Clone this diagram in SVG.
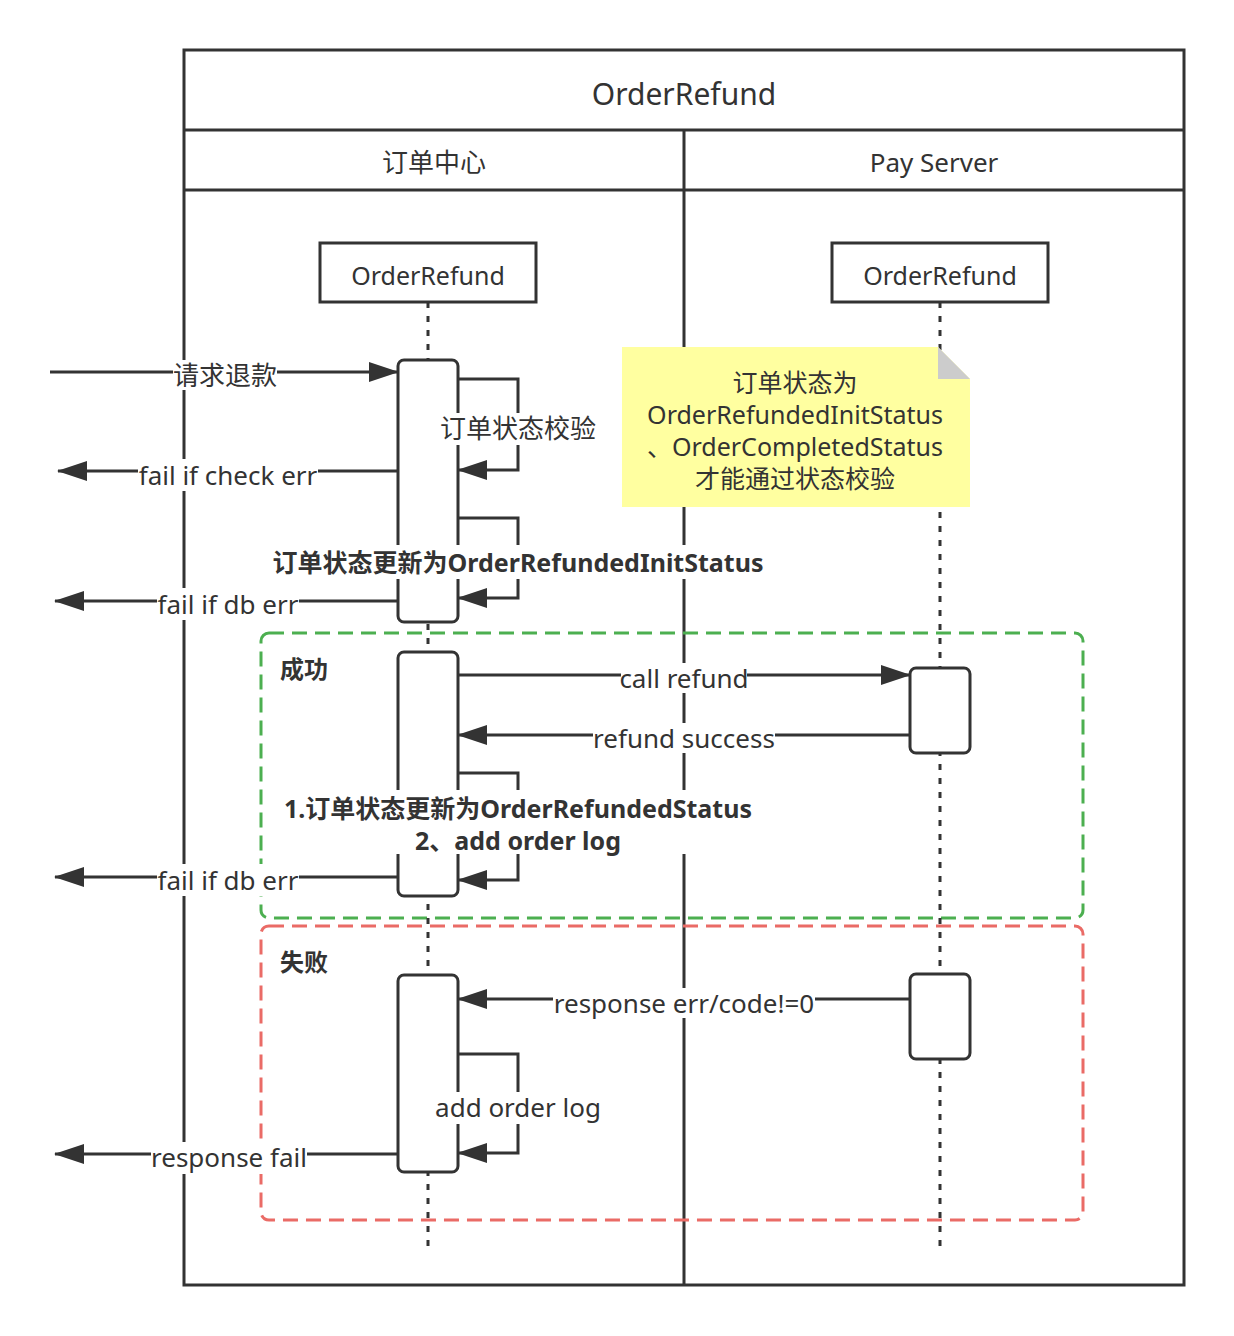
<svg xmlns="http://www.w3.org/2000/svg" width="1234" height="1336" viewBox="0 0 1234 1336">
<defs>
<style>
text{font-family:"Noto Sans","Noto Sans CJK SC",sans-serif;fill:#333333;text-anchor:middle}
.lbl{font-size:26px}
.bold{font-size:25px;font-weight:bold}
.frame{fill:none;stroke:#333333;stroke-width:3}
.life{fill:none;stroke:#333333;stroke-width:3;stroke-dasharray:6 8}
.head{fill:#ffffff;stroke:#333333;stroke-width:3}
.act{fill:#ffffff;stroke:#333333;stroke-width:3}
.msg{fill:none;stroke:#333333;stroke-width:3;marker-end:url(#arr)}
.lbg{fill:#ffffff}
.grp{fill:none;stroke-width:3;stroke-dasharray:15 8}
</style>
<marker id="arr" viewBox="0 0 30 20" refX="29" refY="10" markerWidth="30" markerHeight="20" markerUnits="userSpaceOnUse" orient="auto">
<path d="M0,0 L30,10 L0,20 Z" fill="#333333"/>
</marker>
</defs>
<rect width="1234" height="1336" fill="#ffffff"/>

<g id="pool">
<rect class="frame" x="184" y="50" width="1000" height="1235"/>
<line class="frame" x1="184" y1="130" x2="1184" y2="130"/>
<line class="frame" x1="184" y1="190" x2="1184" y2="190"/>
<line class="frame" x1="684" y1="130" x2="684" y2="1285"/>
<text x="684" y="105" style="font-size:30px">OrderRefund</text>
</g>
<g id="lane-order">
<text class="lbl" x="434" y="172">订单中心</text>
</g>
<g id="lane-pay">
<text class="lbl" x="934" y="172">Pay Server</text>
</g>

<g id="group-success">
<rect class="grp" x="261" y="633" width="822" height="285" rx="8" stroke="#4caf50"/>
<text class="bold" x="304" y="678" style="font-size:24px">成功</text>
</g>
<g id="group-fail">
<rect class="grp" x="261" y="926" width="822" height="294" rx="8" stroke="#ea6b66"/>
<text class="bold" x="304" y="971" style="font-size:24px">失败</text>
</g>

<g id="lifeline-order">
<line class="life" x1="428" y1="302" x2="428" y2="1248"/>
<rect class="head" x="320" y="243" width="216" height="59"/>
<text x="428" y="285" style="font-size:25px">OrderRefund</text>
</g>
<g id="lifeline-pay">
<line class="life" x1="940" y1="302" x2="940" y2="1248"/>
<rect class="head" x="832" y="243" width="216" height="59"/>
<text x="940" y="285" style="font-size:25px">OrderRefund</text>
</g>

<g id="act-order-1"><rect class="act" x="398" y="360" width="60" height="262" rx="6"/></g>
<g id="act-order-2"><rect class="act" x="398" y="652" width="60" height="244" rx="6"/></g>
<g id="act-order-3"><rect class="act" x="398" y="975" width="60" height="197" rx="6"/></g>
<g id="act-pay-1"><rect class="act" x="910" y="668" width="60" height="85" rx="6"/></g>
<g id="act-pay-2"><rect class="act" x="910" y="974" width="60" height="85" rx="6"/></g>

<g id="note">
<path d="M622,347 H938 L970,379 V507 H622 Z" fill="#ffffa0"/>
<path d="M938,347 V379 H970 Z" fill="#cccccc"/>
<text x="795" y="392" style="font-size:25px">订单状态为</text>
<text x="795" y="424" style="font-size:25px">OrderRefundedInitStatus</text>
<text x="795" y="456" style="font-size:25px">、OrderCompletedStatus</text>
<text x="795" y="488" style="font-size:25px">才能通过状态校验</text>
</g>

<g id="connectors">
<path class="msg" d="M50,372 H398"/>
<path class="msg" d="M458,379 H518 V470 H458"/>
<path class="msg" d="M398,471 H58"/>
<path class="msg" d="M458,518 H518 V598 H458"/>
<path class="msg" d="M398,601 H55"/>
<path class="msg" d="M458,675 H910"/>
<path class="msg" d="M910,735 H458"/>
<path class="msg" d="M458,773 H518 V880 H458"/>
<path class="msg" d="M398,877 H55"/>
<path class="msg" d="M910,999 H458"/>
<path class="msg" d="M458,1054 H518 V1153 H458"/>
<path class="msg" d="M398,1154 H55"/>
</g>

<g id="labels">
<rect class="lbg" x="173" y="360" width="104" height="30"/>
<text class="lbl" x="225" y="385">请求退款</text>
<rect class="lbg" x="440" y="413" width="158" height="32"/>
<text class="lbl" x="518" y="438">订单状态校验</text>
<rect class="lbg" x="138" y="459" width="180" height="32"/>
<text class="lbl" x="228" y="485">fail if check err</text>
<rect class="lbg" x="273" y="545" width="491" height="34"/>
<text class="bold" x="518" y="572">订单状态更新为OrderRefundedInitStatus</text>
<rect class="lbg" x="157" y="588" width="142" height="32"/>
<text class="lbl" x="228" y="614">fail if db err</text>
<rect class="lbg" x="621" y="663" width="126" height="30"/>
<text class="lbl" x="684" y="688">call refund</text>
<rect class="lbg" x="593" y="723" width="182" height="30"/>
<text class="lbl" x="684" y="748">refund success</text>
<rect class="lbg" x="282" y="790" width="472" height="64"/>
<text class="bold" x="518" y="818">1.订单状态更新为OrderRefundedStatus</text>
<text class="bold" x="518" y="850">2、add order log</text>
<rect class="lbg" x="157" y="864" width="142" height="32"/>
<text class="lbl" x="228" y="890">fail if db err</text>
<rect class="lbg" x="553" y="988" width="262" height="30"/>
<text class="lbl" x="684" y="1013">response err/code!=0</text>
<rect class="lbg" x="437" y="1092" width="162" height="32"/>
<text class="lbl" x="518" y="1117">add order log</text>
<rect class="lbg" x="151" y="1142" width="156" height="32"/>
<text class="lbl" x="229" y="1167">response fail</text>
</g>
</svg>
